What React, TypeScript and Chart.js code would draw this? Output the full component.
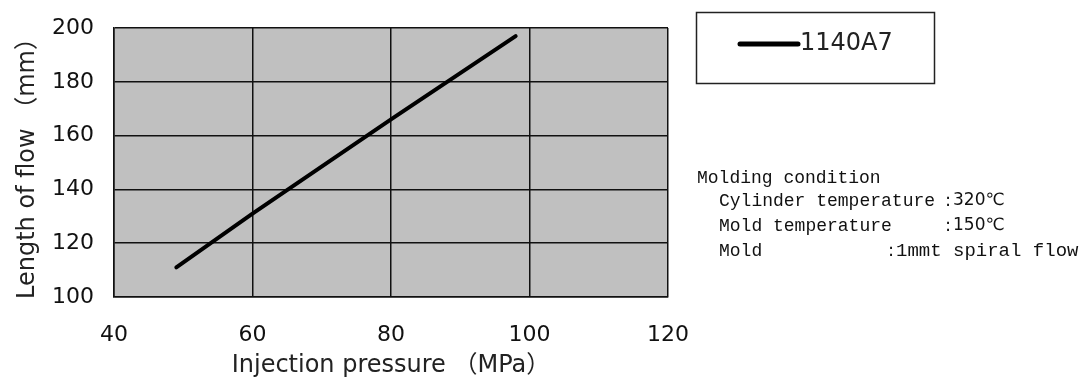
import React, { useEffect, useRef } from "react";
import { Chart, registerables } from "chart.js";

Chart.register(...registerables);

const pressure = [49, 60, 80, 98];
const flowLength = [111, 131, 166, 197];
const seriesName = "1140A7";
const xTicks = [40, 60, 80, 100, 120];
const yTicks = [100, 120, 140, 160, 180, 200];
const xTitle = "Injection pressure （MPa）";
const yTitle = "Length of flow （mm）";
const noteTitle = "Molding condition";
const noteLabels = ["Cylinder temperature", "Mold temperature", "Mold"];
const noteValues = ["320℃", "150℃", "1mmt spiral flow"];

const FONT = "'DejaVu Sans', 'Noto Sans CJK JP', sans-serif";
const MONO = "'Liberation Mono', 'DejaVu Sans Mono', monospace";

const decorPlugin = {
  id: "decor",
  beforeDraw(chart: any) {
    const { ctx, chartArea } = chart;
    ctx.save();
    ctx.fillStyle = "#ffffff";
    ctx.fillRect(0, 0, chart.width, chart.height);
    ctx.fillStyle = "#c0c0c0";
    ctx.fillRect(chartArea.left, chartArea.top, chartArea.right - chartArea.left, chartArea.bottom - chartArea.top);
    ctx.restore();
  },
  afterDraw(chart: any) {
    const { ctx } = chart;
    ctx.save();
    // legend box
    ctx.strokeStyle = "#222";
    ctx.lineWidth = 1.5;
    ctx.strokeRect(696.5, 12.5, 238, 71);
    ctx.strokeStyle = "#000";
    ctx.lineWidth = 5;
    ctx.lineCap = "round";
    ctx.beginPath();
    ctx.moveTo(740, 44);
    ctx.lineTo(798, 44);
    ctx.stroke();
    ctx.fillStyle = "#222";
    ctx.font = `24px ${FONT}`;
    ctx.textBaseline = "middle";
    ctx.textAlign = "left";
    ctx.fillText(seriesName, 800, 44);
    // notes
    ctx.fillStyle = "#111";
    ctx.font = `18px ${MONO}`;
    ctx.fillText(noteTitle, 697, 178);
    const rowsY = [201, 226, 251];
    const colonX = [945, 945, 888];
    noteLabels.forEach((l, i) => {
      ctx.font = `18px ${MONO}`;
      ctx.fillText(l, 719, rowsY[i]);
      ctx.font = `18px ${FONT}`;
      ctx.fillText(":", colonX[i], rowsY[i]);
      ctx.font = i === 2 ? `19px ${MONO}` : `17px ${FONT}`;
      ctx.fillText(noteValues[i], colonX[i] + 8, rowsY[i]);
    });
    ctx.restore();
  },
};

export default function App() {
  const ref = useRef<HTMLCanvasElement>(null);
  useEffect(() => {
    if (!ref.current) return;
    const chart = new Chart(ref.current, {
      type: "line",
      data: {
        datasets: [
          {
            label: seriesName,
            data: pressure.map((x, i) => ({ x, y: flowLength[i] })),
            borderColor: "#000",
            borderWidth: 4,
            borderCapStyle: "round",
            pointRadius: 0,
            tension: 0,
            fill: false,
          },
        ],
      },
      options: {
        animation: false,
        responsive: false,
        layout: { padding: { left: 0, right: 416, top: 28, bottom: 0 } },
        plugins: { legend: { display: false }, tooltip: { enabled: false } },
        scales: {
          x: {
            type: "linear",
            min: xTicks[0],
            max: xTicks[xTicks.length - 1],
            afterBuildTicks: (s: any) => {
              s.ticks = xTicks.map((v) => ({ value: v }));
            },
            afterFit: (s: any) => {
              s.height = 90;
              s.paddingLeft = 0;
              s.paddingRight = 0;
            },
            grid: { color: "#111", lineWidth: 1.5, drawTicks: false },
            border: { color: "#111", width: 1.5 },
            ticks: { color: "#111", font: { family: FONT, size: 22 }, padding: 25, maxRotation: 0 },
            title: {
              display: true,
              text: xTitle,
              color: "#222",
              font: { family: FONT, size: 24 },
              padding: { top: 0, bottom: 7 },
            },
          },
          y: {
            type: "linear",
            min: yTicks[0],
            max: yTicks[yTicks.length - 1],
            afterBuildTicks: (s: any) => {
              s.ticks = yTicks.map((v) => ({ value: v }));
            },
            afterFit: (s: any) => {
              s.width = 114;
              s.paddingTop = 0;
              s.paddingBottom = 0;
            },
            grid: { color: "#111", lineWidth: 1.5, drawTicks: false },
            border: { color: "#111", width: 1.5 },
            ticks: { color: "#111", font: { family: FONT, size: 22 }, padding: 20 },
            title: {
              display: true,
              text: yTitle,
              color: "#222",
              font: { family: FONT, size: 24 },
              padding: { top: 13, bottom: 0 },
            },
          },
        },
      },
      plugins: [decorPlugin],
    } as any);
    return () => chart.destroy();
  }, []);
  return (
    <div style={{ position: "fixed", left: 0, top: 0, width: 1084, height: 387, background: "#fff" }}>
      <canvas ref={ref} width={1084} height={387} style={{ display: "block" }} />
    </div>
  );
}
